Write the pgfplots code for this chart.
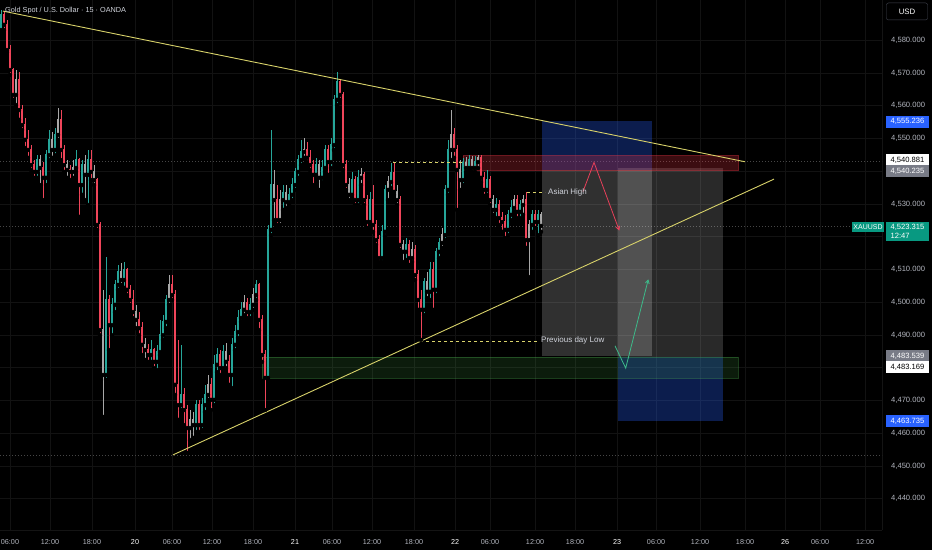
\documentclass[border=0pt]{standalone}
\usepackage{pgfplots}
\pgfplotsset{compat=1.18}
\usepackage{pgfplotstable}
\usetikzlibrary{arrows.meta}
\usepackage{fontspec}
\setmainfont{Liberation Sans}
\definecolor{upc}{HTML}{26A69A}
\definecolor{dnc}{HTML}{F0455A}
\definecolor{grc}{HTML}{A8A8A8}
\definecolor{trend}{HTML}{D8D26A}
\definecolor{gridc}{HTML}{121212}
\definecolor{axisc}{HTML}{141414}
\definecolor{dotc}{HTML}{464646}
\definecolor{tvblue}{HTML}{2962FF}
\definecolor{tvgray}{HTML}{787B86}
\definecolor{tvgreen}{HTML}{089981}
\definecolor{txt}{HTML}{D1D4DC}
\definecolor{ticktxt}{HTML}{B2B5BE}
\definecolor{zred}{HTML}{F23645}
\definecolor{zgreen}{HTML}{4CAF50}
\definecolor{arrred}{HTML}{E8405A}
\definecolor{arrgreen}{HTML}{3DBB8A}

\pgfplotstableread{
x o h l c t
1 4583.1 4589.2 4582.5 4587.7 1
4 4587.7 4588.6 4583.1 4584.7 2
7 4584.7 4586.2 4576.4 4577.0 2
10 4577.0 4578.6 4569.4 4570.9 2
13 4570.9 4571.5 4561.8 4563.3 2
16 4563.3 4570.9 4560.2 4567.9 3
19 4567.9 4570.3 4555.7 4558.7 2
22 4558.7 4560.2 4552.6 4554.1 2
25 4554.1 4556.3 4547.1 4549.6 2
28 4549.6 4552.6 4544.1 4546.5 2
31 4546.5 4548.0 4540.4 4541.9 2
34 4541.9 4543.4 4538.0 4539.8 2
37 4539.8 4544.9 4538.0 4543.4 1
40 4543.4 4544.9 4535.8 4541.0 3
43 4541.0 4542.8 4531.2 4538.0 2
46 4538.0 4546.5 4535.8 4544.9 1
49 4544.9 4552.6 4543.4 4549.6 1
52 4549.6 4552.0 4544.1 4546.5 3
55 4546.5 4553.2 4544.9 4551.1 1
58 4551.1 4559.3 4549.6 4555.7 3
61 4555.7 4558.7 4543.4 4546.5 2
64 4546.5 4548.0 4539.8 4541.9 2
67 4541.9 4543.4 4538.0 4540.4 3
70 4540.4 4541.9 4537.3 4539.8 2
73 4539.8 4543.4 4538.0 4541.0 3
76 4541.0 4546.5 4539.8 4543.4 1
79 4543.4 4544.1 4526.1 4535.8 2
82 4535.8 4543.4 4532.8 4541.9 1
85 4541.9 4544.9 4531.2 4538.9 3
88 4538.9 4546.5 4529.7 4543.4 1
91 4543.4 4546.5 4537.3 4539.8 2
94 4539.8 4541.9 4535.8 4537.3 3
97 4537.3 4538.0 4522.1 4523.6 2
100 4523.6 4524.5 4489.9 4491.5 2
103 4491.5 4503.8 4465.0 4477.8 3
106 4477.8 4513.8 4476.3 4500.7 1
109 4500.7 4502.2 4485.4 4493.0 2
112 4493.0 4501.3 4489.9 4499.2 1
115 4499.2 4506.8 4497.0 4505.3 1
118 4505.3 4511.4 4503.8 4509.3 1
121 4509.3 4512.0 4505.3 4506.8 3
124 4506.8 4512.3 4504.4 4509.9 1
127 4509.9 4510.5 4502.2 4503.8 2
130 4503.8 4505.3 4499.2 4500.7 2
133 4500.7 4503.8 4495.2 4497.0 2
136 4497.0 4499.2 4492.1 4494.6 3
139 4494.6 4497.0 4489.9 4492.1 2
142 4492.1 4494.0 4483.9 4487.0 2
145 4487.0 4489.1 4482.4 4485.4 3
148 4485.4 4487.3 4481.8 4483.9 2
151 4483.9 4488.5 4481.8 4485.4 1
154 4485.4 4486.1 4479.9 4481.8 2
157 4481.8 4487.0 4479.3 4484.8 1
160 4484.8 4494.6 4483.9 4489.9 1
163 4489.9 4496.1 4488.5 4494.0 1
166 4494.0 4502.2 4492.1 4500.7 1
169 4500.7 4508.3 4499.2 4505.3 3
172 4505.3 4508.3 4500.7 4502.2 2
175 4502.2 4503.8 4471.7 4474.8 2
178 4474.8 4488.5 4464.1 4468.6 2
181 4468.6 4487.0 4467.1 4471.7 1
184 4471.7 4473.8 4462.5 4467.1 2
187 4467.1 4468.6 4454.0 4461.6 2
190 4461.6 4467.1 4457.9 4464.1 3
193 4464.1 4466.5 4458.6 4462.5 3
196 4462.5 4470.2 4460.4 4468.6 1
199 4468.6 4470.2 4460.4 4462.5 2
202 4462.5 4470.8 4461.0 4468.6 1
205 4468.6 4474.8 4466.5 4471.7 1
208 4471.7 4477.8 4470.2 4474.8 3
211 4474.8 4476.9 4467.1 4470.2 2
214 4470.2 4483.9 4468.6 4480.9 1
217 4480.9 4486.1 4478.7 4483.9 1
220 4483.9 4485.4 4477.8 4479.9 2
223 4479.9 4487.0 4478.7 4484.8 1
226 4484.8 4487.6 4479.9 4481.8 3
229 4481.8 4483.9 4474.8 4477.8 2
232 4477.8 4489.1 4473.8 4487.0 1
235 4487.0 4493.0 4485.4 4490.9 1
238 4490.9 4497.7 4489.1 4495.2 1
241 4495.2 4500.1 4494.0 4497.7 1
244 4497.7 4502.2 4496.1 4499.8 3
247 4499.8 4501.3 4495.2 4497.0 2
250 4497.0 4501.3 4495.2 4499.2 1
253 4499.2 4504.4 4497.7 4502.2 3
256 4502.2 4506.8 4500.7 4505.3 1
259 4505.3 4505.9 4491.5 4494.6 2
262 4494.6 4496.1 4481.8 4483.9 2
265 4483.9 4485.4 4467.1 4476.9 2
268 4476.9 4523.6 4476.3 4522.1 1
271 4522.1 4552.6 4520.5 4535.8 1
274 4535.8 4540.4 4525.1 4531.2 3
277 4531.2 4535.8 4523.6 4525.1 2
280 4525.1 4534.3 4523.6 4531.2 3
283 4531.2 4535.8 4528.2 4533.4 1
286 4533.4 4535.8 4528.8 4530.6 3
289 4530.6 4534.9 4529.7 4532.8 1
292 4532.8 4538.0 4531.2 4535.8 1
295 4535.8 4541.0 4534.3 4539.8 1
298 4539.8 4544.9 4538.0 4543.4 1
301 4543.4 4549.6 4541.9 4545.9 1
304 4545.9 4550.2 4544.1 4546.5 3
307 4546.5 4548.9 4542.8 4544.1 2
310 4544.1 4546.5 4540.4 4541.9 2
313 4541.9 4543.4 4535.8 4538.9 2
316 4538.9 4544.1 4538.0 4541.9 1
319 4541.9 4543.4 4534.3 4538.0 3
322 4538.0 4543.4 4536.7 4541.0 1
325 4541.0 4548.0 4539.8 4546.5 1
328 4546.5 4548.0 4538.9 4542.8 2
331 4542.8 4550.2 4541.0 4548.0 1
334 4548.0 4563.3 4546.5 4561.8 1
337 4561.8 4570.3 4560.2 4567.3 1
340 4567.3 4567.9 4561.8 4563.3 2
343 4563.3 4564.2 4540.4 4541.9 2
346 4541.9 4543.4 4534.3 4535.8 2
349 4535.8 4538.0 4531.2 4532.8 3
352 4532.8 4539.8 4531.9 4537.3 1
355 4537.3 4538.6 4529.7 4531.2 2
358 4531.2 4540.4 4529.7 4538.0 1
361 4538.0 4541.0 4535.8 4538.9 3
364 4538.9 4539.8 4529.7 4531.2 2
367 4531.2 4532.8 4522.7 4524.5 2
370 4524.5 4533.7 4523.6 4531.2 1
373 4531.2 4535.8 4521.5 4523.6 2
376 4523.6 4525.1 4517.5 4519.0 2
379 4519.0 4520.5 4512.3 4513.5 2
382 4513.5 4523.6 4512.3 4521.5 1
385 4521.5 4535.8 4520.2 4534.3 1
388 4534.3 4538.6 4531.2 4536.7 3
391 4536.7 4542.5 4534.9 4539.5 1
394 4539.5 4542.5 4532.8 4533.7 2
397 4533.7 4535.8 4529.7 4531.2 3
400 4531.2 4532.5 4516.0 4517.5 2
403 4517.5 4519.0 4512.3 4515.4 3
406 4515.4 4519.6 4512.9 4517.5 1
409 4517.5 4519.0 4511.4 4513.5 2
412 4513.5 4518.4 4512.3 4516.0 3
415 4516.0 4517.5 4506.8 4508.3 2
418 4508.3 4509.9 4497.7 4500.7 2
421 4500.7 4503.8 4488.5 4497.7 2
424 4497.7 4507.4 4496.1 4506.2 1
427 4506.2 4509.3 4501.3 4503.2 3
430 4503.2 4512.3 4500.7 4509.9 1
433 4509.9 4512.3 4497.7 4503.8 2
436 4503.8 4516.6 4502.2 4515.4 1
439 4515.4 4519.6 4513.5 4518.1 1
442 4518.1 4522.7 4516.6 4520.5 3
445 4520.5 4535.8 4519.0 4534.3 1
448 4534.3 4549.6 4532.8 4546.5 1
451 4546.5 4558.7 4543.4 4551.1 3
454 4551.1 4553.2 4544.1 4546.5 2
457 4546.5 4548.0 4528.2 4540.4 2
460 4540.4 4543.4 4534.3 4537.3 3
463 4537.3 4544.1 4535.8 4542.5 1
466 4542.5 4544.4 4539.8 4541.0 3
469 4541.0 4544.9 4540.4 4543.4 1
472 4543.4 4544.7 4539.8 4541.0 3
475 4541.0 4544.7 4539.8 4542.8 1
478 4542.8 4544.9 4541.0 4544.1 3
481 4544.1 4544.9 4536.7 4538.0 2
484 4538.0 4539.8 4532.5 4534.3 2
487 4534.3 4540.4 4532.8 4537.3 1
490 4537.3 4538.6 4529.7 4531.2 2
493 4531.2 4532.8 4526.7 4528.2 3
496 4528.2 4531.9 4525.7 4529.7 1
499 4529.7 4531.2 4523.6 4525.7 2
502 4525.7 4527.6 4521.5 4524.5 2
505 4524.5 4526.7 4519.6 4522.1 2
508 4522.1 4528.2 4520.5 4526.7 1
511 4526.7 4531.2 4525.1 4528.8 1
514 4528.8 4532.8 4527.6 4531.2 3
517 4531.2 4532.8 4525.7 4527.6 2
520 4527.6 4531.2 4525.7 4529.7 1
523 4529.7 4532.8 4526.7 4531.2 3
526 4531.2 4533.7 4516.6 4519.0 2
529 4519.0 4525.1 4507.7 4523.6 3
532 4523.6 4528.2 4521.5 4526.7 1
535 4526.7 4528.2 4522.7 4524.5 2
538 4524.5 4528.2 4520.5 4526.7 1
541 4526.7 4527.6 4521.5 4523.3 3
}\candles

\pgfplotsset{
  wick/.style 2 args={only marks, mark=none, forget plot, unbounded coords=discard,
    restrict expr to domain={\thisrow{t}}{#1:#1},
    error bars/.cd, y dir=plus, y explicit, error mark=none,
    error bar style={draw=#2, line width=0.65pt, solid}},
  body/.style 2 args={only marks, mark=none, forget plot, unbounded coords=discard,
    restrict expr to domain={\thisrow{t}}{#1:#1},
    error bars/.cd, y dir=plus, y explicit, error mark=none,
    error bar style={draw=#2, line width=1.9pt, solid}},
}

\newcommand{\lbl}{\fontsize{7.6}{8.5}\selectfont}

\begin{document}
\begin{tikzpicture}
\useasboundingbox (0,0) rectangle (932pt,550pt);
\fill[black] (0,0) rectangle (932pt,550pt);
\begin{axis}[
  at={(0pt,20pt)}, anchor=south west, scale only axis,
  width=882pt, height=530pt,
  xmin=0, xmax=882, ymin=4430.47, ymax=4592.29,
  clip=false,
  axis x line*=bottom, axis y line*=right,
  axis line style={draw=axisc, line width=0.5pt, -},
  major tick length=0pt,
  grid=major, grid style={draw=gridc, line width=0.6pt},
  xtick={10,50,92,135,172,212,253,295,332,372,414,455,490,535,575,617,656,700,745,785,820,865},
  xticklabels={06:00,12:00,18:00,{\color{white}20},06:00,12:00,18:00,{\color{white}21},06:00,12:00,18:00,{\color{white}22},06:00,12:00,18:00,{\color{white}23},06:00,12:00,18:00,{\color{white}26},06:00,12:00},
  xticklabel style={font=\fontsize{7.2}{8}\selectfont, text=ticktxt, inner sep=0pt, anchor=base, yshift=-14pt},
  ytick={4440,4450,4460,4470,4480,4490,4500,4510,4520,4530,4540,4550,4560,4570,4580},
  yticklabels={{4,440.000},{4,450.000},{4,460.000},{4,470.000},{},{4,490.000},{4,500.000},{4,510.000},{},{4,530.000},{},{4,550.000},{4,560.000},{4,570.000},{4,580.000}},
  yticklabel style={font=\lbl, text=ticktxt, inner sep=0pt, anchor=west, xshift=9pt},
]
% dotted horizontal lines
\addplot[dotc, dash pattern=on 1pt off 2pt, line width=0.6pt, forget plot] coordinates {(0,4543.1) (882,4543.1)};
\addplot[dotc, dash pattern=on 1pt off 2pt, line width=0.6pt, forget plot] coordinates {(0,4523.315) (882,4523.315)};
\addplot[dotc, dash pattern=on 1pt off 2pt, line width=0.6pt, forget plot] coordinates {(0,4453.4) (882,4453.4)};

% position boxes
\addplot[draw=none, fill=tvblue, fill opacity=0.30, forget plot] coordinates {(542,4540.235) (652,4540.235) (652,4555.236) (542,4555.236)} -- cycle;
\addplot[draw=none, fill=white, fill opacity=0.19, forget plot] coordinates {(542,4483.539) (652,4483.539) (652,4540.235) (542,4540.235)} -- cycle;
\addplot[draw=none, fill=white, fill opacity=0.16, forget plot] coordinates {(618,4483.169) (723,4483.169) (723,4540.881) (618,4540.881)} -- cycle;
\addplot[draw=none, fill=tvblue, fill opacity=0.30, forget plot] coordinates {(618,4463.735) (723,4463.735) (723,4483.169) (618,4483.169)} -- cycle;

% zones
\addplot[draw=zred, draw opacity=0.45, fill=zred, fill opacity=0.25, line width=0.6pt, forget plot] coordinates {(463,4540.4) (738,4540.4) (738,4544.75) (463,4544.75)} -- cycle;
\addplot[draw=zgreen, draw opacity=0.35, fill=zgreen, fill opacity=0.16, line width=0.6pt, forget plot] coordinates {(262,4476.9) (738,4476.9) (738,4483.3) (262,4483.3)} -- cycle;

% candles
\addplot[wick={1}{upc}] table[x=x, y=l, y error plus expr={\thisrow{h}-\thisrow{l}}] {\candles};
\addplot[wick={2}{dnc}] table[x=x, y=l, y error plus expr={\thisrow{h}-\thisrow{l}}] {\candles};
\addplot[wick={3}{grc}] table[x=x, y=l, y error plus expr={\thisrow{h}-\thisrow{l}}] {\candles};
\addplot[body={1}{upc}] table[x=x, y expr={min(\thisrow{o},\thisrow{c})}, y error plus expr={abs(\thisrow{c}-\thisrow{o})+0.3}] {\candles};
\addplot[body={2}{dnc}] table[x=x, y expr={min(\thisrow{o},\thisrow{c})}, y error plus expr={abs(\thisrow{c}-\thisrow{o})+0.3}] {\candles};
\addplot[body={3}{grc}] table[x=x, y expr={min(\thisrow{o},\thisrow{c})}, y error plus expr={abs(\thisrow{c}-\thisrow{o})+0.3}] {\candles};

% trend lines
\addplot[trend, line width=0.9pt, forget plot] coordinates {(3,4588.9) (745,4542.9)};
\addplot[trend, line width=0.9pt, forget plot] coordinates {(173,4453.4) (774,4537.6)};

% dashed level lines
\addplot[trend, dash pattern=on 3pt off 3pt, line width=0.7pt, forget plot] coordinates {(393,4542.7) (463,4542.7)};
\addplot[trend, dash pattern=on 3pt off 3pt, line width=0.7pt, forget plot] coordinates {(527,4533.6) (545,4533.6)};
\addplot[trend, dash pattern=on 3pt off 3pt, line width=0.7pt, forget plot] coordinates {(420,4488.2) (538,4488.2)};

% projection arrows
\addplot[arrred, line width=0.8pt, -{Straight Barb[length=3.5pt,width=4pt]}, forget plot] coordinates {(583,4533.8) (594,4542.7) (619.3,4521.9)};
\addplot[arrgreen, line width=0.8pt, -{Straight Barb[length=3.5pt,width=4pt]}, forget plot] coordinates {(615,4486.7) (625.7,4479.9) (648.3,4507.0)};

% texts
\node[anchor=west, text=txt, font=\fontsize{7.3}{8.5}\selectfont, inner sep=0pt] at (axis cs:5,4589.1) {Gold Spot / U.S. Dollar · 15 · OANDA};
\node[anchor=west, text=txt, font=\fontsize{8}{9}\selectfont, inner sep=0pt] at (axis cs:548,4533.6) {Asian High};
\node[anchor=west, text=txt, font=\fontsize{8}{9}\selectfont, inner sep=0pt] at (axis cs:541,4488.2) {Previous day Low};

% right price labels
\node[draw={rgb,255:red,67;green,70;blue,81}, fill=black, rounded corners=2pt, text=white, minimum width=41pt, minimum height=17pt, inner sep=0pt, font=\fontsize{7.8}{9}\selectfont] at (axis cs:907,4588.8) {USD};
\node[fill=tvblue, text=white, minimum width=43pt, minimum height=11.5pt, inner sep=0pt, font=\lbl] at (axis cs:907.5,4555.1) {4,555.236};
\node[fill=white, text=black, minimum width=43pt, minimum height=11.5pt, inner sep=0pt, font=\lbl] at (axis cs:907.5,4543.4) {4,540.881};
\node[fill=tvgray, text=white, minimum width=43pt, minimum height=11.5pt, inner sep=0pt, font=\lbl] at (axis cs:907.5,4540.1) {4,540.235};
\node[fill=tvgreen, text=white, minimum width=32pt, minimum height=10pt, inner sep=0pt, font=\fontsize{7}{8}\selectfont] at (axis cs:868,4523.0) {XAUUSD};
\node[fill=tvgreen, text=white, minimum width=43pt, minimum height=19pt, inner sep=0pt, align=left, font=\lbl] at (axis cs:907.5,4521.6) {4,523.315\\12:47};
\node[fill=tvgray, text=white, minimum width=43pt, minimum height=11.5pt, inner sep=0pt, font=\lbl] at (axis cs:907.5,4483.6) {4,483.539};
\node[fill=white, text=black, minimum width=43pt, minimum height=11.5pt, inner sep=0pt, font=\lbl] at (axis cs:907.5,4480.2) {4,483.169};
\node[fill=tvblue, text=white, minimum width=43pt, minimum height=11.5pt, inner sep=0pt, font=\lbl] at (axis cs:907.5,4463.8) {4,463.735};
\end{axis}
\end{tikzpicture}
\end{document}
